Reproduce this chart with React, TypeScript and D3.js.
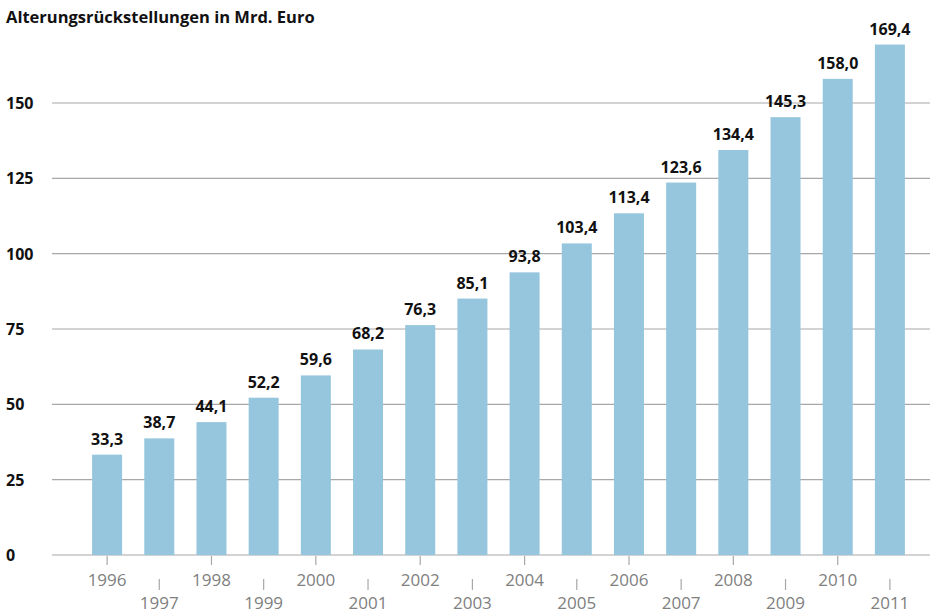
import React from 'react'
import { scaleLinear, scaleBand } from 'd3'

const years = ['1996', '1997', '1998', '1999', '2000', '2001', '2002', '2003',
  '2004', '2005', '2006', '2007', '2008', '2009', '2010', '2011']
const values = [33.3, 38.7, 44.1, 52.2, 59.6, 68.2, 76.3, 85.1,
  93.8, 103.4, 113.4, 123.6, 134.4, 145.3, 158.0, 169.4]
const yTicks = [0, 25, 50, 75, 100, 125, 150]
const title = 'Alterungsrückstellungen in Mrd. Euro'

const width = 930
const height = 613
const font = '"Open Sans", "DejaVu Sans", sans-serif'

const App = () => {
  const yscale = scaleLinear().domain([0, 150]).range([555, 103])
  const xscale = scaleBand<string>().domain(years).range([81, 916])
    .paddingInner(0.425).paddingOuter(0.2125)
  const bw = xscale.bandwidth()

  const fmt = (v: number) => v.toFixed(1).replace('.', ',')

  const grid = yTicks.map(t => (
    <g key={t}>
      <line x1={52} x2={930} y1={yscale(t)} y2={yscale(t)} stroke='#a8a8a8' strokeWidth={1.2} />
      <text x={6} y={yscale(t) + 6} fontSize={16} fontWeight='bold' fill='#111'>{t}</text>
    </g>
  ))

  const bars = years.map((y, i) => (
    <rect key={y} x={xscale(y)} y={yscale(values[i])} width={bw}
      height={yscale(0) - yscale(values[i])} fill='#96c6de' />
  ))

  const labels = years.map((y, i) => (
    <text key={y} x={(xscale(y) as number) + bw / 2} y={yscale(values[i]) - 10}
      textAnchor='middle' fontSize={16} fontWeight='bold' fill='#111'>{fmt(values[i])}</text>
  ))

  const xAxis = years.map((y, i) => {
    const cx = (xscale(y) as number) + bw / 2
    const low = i % 2 === 1
    return (
      <g key={y}>
        <line x1={cx} x2={cx} y1={low ? 579 : 556} y2={low ? 590 : 565} stroke='#a8a8a8' strokeWidth={1.2} />
        <text x={cx} y={low ? 609 : 586} textAnchor='middle' fontSize={17} fill='#808080'>{y}</text>
      </g>
    )
  })

  return (
    <svg width={width} height={height} viewBox={`0 0 ${width} ${height}`}
      style={{ position: 'absolute', left: 0, top: 0, fontFamily: font }}>
      <rect width={width} height={height} fill='#fff' />
      <text x={6} y={23} fontSize={16.5} fontWeight='bold' fill='#111'>{title}</text>
      {grid}
      {bars}
      {labels}
      {xAxis}
    </svg>
  )
}

export default App
